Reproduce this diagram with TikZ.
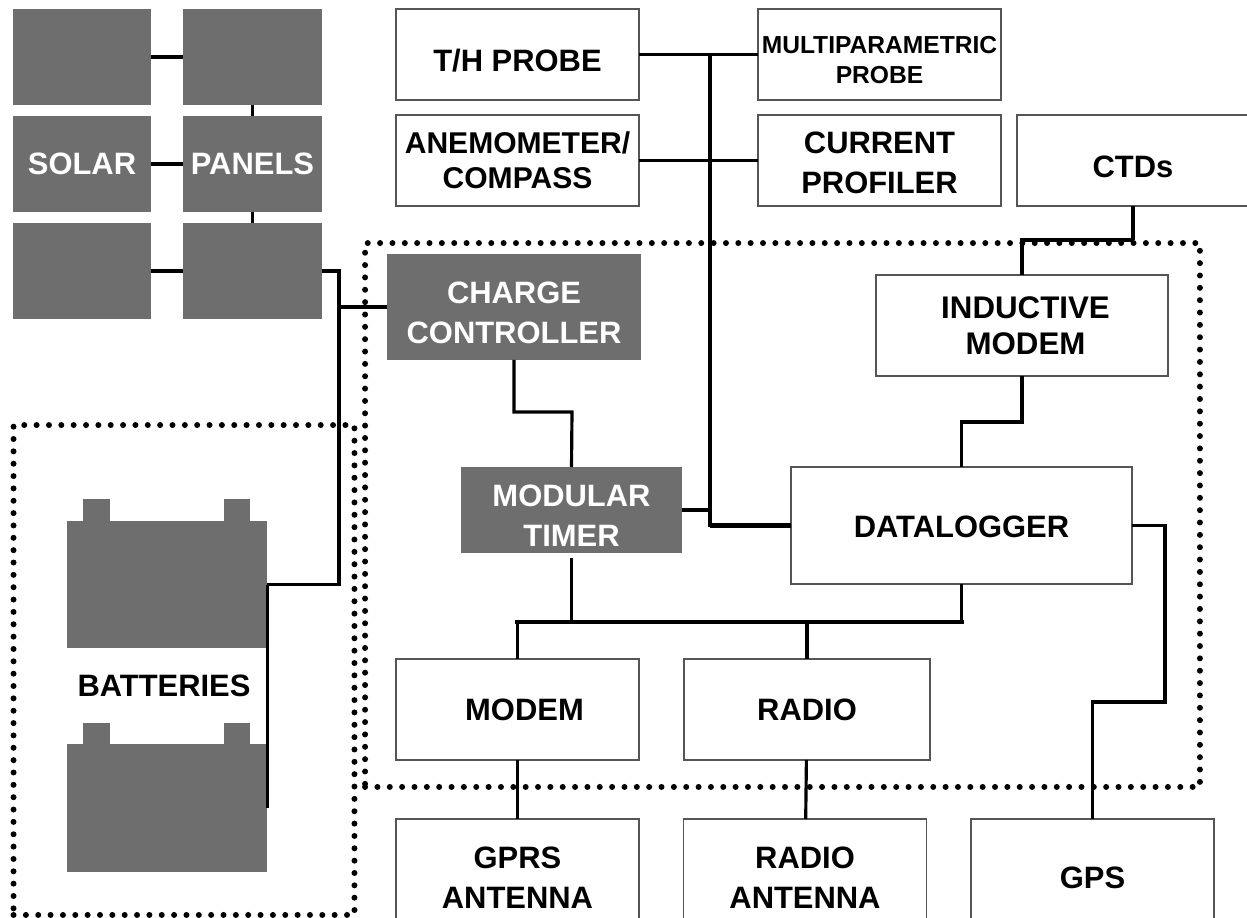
\documentclass[tikz,border=0pt]{standalone}
\usepackage{fontspec}
\setmainfont{Liberation Sans}
\usetikzlibrary{positioning}

\definecolor{panelgrey}{HTML}{6E6E6E}
\definecolor{edgegrey}{HTML}{555555}
\newcommand{\toppad}[1]{\rule{0pt}{#1}}

\begin{document}
\begin{tikzpicture}[
    x=0.02cm, y=-0.02cm,
    every node/.style={outer sep=0pt, inner sep=0pt},
    label/.style={align=center, font=\bfseries\fontsize{17.6}{22.7}\selectfont},
    box/.style={label, draw=edgegrey, line width=0.8pt, fill=white, minimum width=4.86cm, minimum height=1.82cm},
    panel/.style={label, fill=panelgrey, text=white, minimum width=2.77cm, minimum height=1.92cm},
    dark/.style={label, fill=panelgrey, text=white},
    battery/.style={fill=panelgrey, minimum width=4.02cm, minimum height=2.55cm},
    lug/.style={fill=panelgrey, minimum width=0.53cm, minimum height=0.43cm},
    zone/.style={draw, line width=3.4pt, line cap=round, dash pattern=on 0pt off 7.03pt},
    wire/.style={line width=1.8pt},
    buswire/.style={line width=2.5pt}
]
\path[clip, use as bounding box] (0,0) rectangle (1247,918);

% dotted enclosures
\node[zone, minimum width=16.7cm, minimum height=10.88cm] (station) at (782.5,515) {};
\node[zone, minimum width=6.82cm, minimum height=9.8cm] (batzone) at (184,670) {};

% solar panels
\node[panel] (pa1) at (82,57) {};
\node[panel, right=0.64cm of pa1] (pa2) {};
\node[panel, below=0.22cm of pa1] (pb1) {SOLAR};
\node[panel, right=0.64cm of pb1] (pb2) {PANELS};
\node[panel, below=0.22cm of pb1] (pc1) {};
\node[panel, right=0.64cm of pc1] (pc2) {};

% sensors
\node[box] (thprobe) at (517.5,54.5) {\toppad{19.2pt}T/H PROBE};
\node[box, font=\bfseries\fontsize{14}{17}\selectfont] (multi) at (879.5,54.5) {\toppad{15.8pt}MULTIPARAMETRIC\\PROBE};
\node[box, below=0.3cm of thprobe, font=\bfseries\fontsize{17.1}{19.9}\selectfont] (anemo) {ANEMOMETER/\\COMPASS};
\node[box, below=0.3cm of multi] (current) {\toppad{15.2pt}CURRENT\\PROFILER};
\node[box, minimum width=4.64cm] (ctds) at (1133,160.5) {\toppad{19.2pt}CTDs};

% station
\node[dark, minimum width=5.08cm, minimum height=2.12cm] (charge) at (514,307) {\toppad{19.2pt}CHARGE\\CONTROLLER};
\node[box, minimum width=5.84cm, minimum height=2.02cm, font=\bfseries\fontsize{17.8}{20.4}\selectfont] (inductive) at (1022,325.5) {\hspace*{0.14cm}INDUCTIVE\\\hspace*{0.14cm}MODEM};
\node[dark, minimum width=4.42cm, minimum height=1.72cm] (timer) at (571.5,510) {\toppad{19.2pt}MODULAR\\TIMER};
\node[box, minimum width=6.82cm, minimum height=2.34cm] (logger) at (961.5,525.5) {\toppad{14pt}DATALOGGER};
\node[box, minimum height=2.02cm] (modem) at (517.5,709.5) {\hspace*{0.28cm}MODEM};
\node[box, minimum width=4.92cm, minimum height=2.02cm] (radio) at (807,709.5) {RADIO};

% antennas
\node[box, minimum height=2.36cm] (gprs) at (517.5,878) {GPRS\\ANTENNA};
\node[box, minimum height=2.36cm] (radioant) at (805,878) {RADIO\\ANTENNA};
\node[box, minimum height=2.36cm] (gps) at (1092.5,878) {GPS};

% batteries
\node[battery] (bat1) at (167,584.5) {};
\node[lug, above right=0cm and 0.33cm of bat1.north west] (bat1a) {};
\node[lug, above left=0cm and 0.34cm of bat1.north east] (bat1b) {};
\node[label] (batlabel) at (164,686) {BATTERIES};
\node[battery] (bat2) at (167,808) {};
\node[lug, above right=0cm and 0.33cm of bat2.north west] (bat2a) {};
\node[lug, above left=0cm and 0.34cm of bat2.north east] (bat2b) {};

\coordinate (solarbus) at (339,307);
\coordinate (probebus) at (710,54.5);
\coordinate (ctdbend) at (1134,240);
\coordinate (chargebend) at (572,412);
\coordinate (inductivebend) at (961.5,422);
\coordinate (timerout) at (571.5,558);
\coordinate (powerbus) at (961.5,622);
\coordinate (gpsbend) at (1165,702);

% panel strings
\draw[wire] (pa1) -- (pa2);
\draw[wire] (pb1) -- (pb2);
\draw[wire] (pc1) -- (pc2);
\draw[wire] (pa2) -- (pb2);
\draw[wire] (pb2) -- (pc2);
\draw[wire] (pc2.east) -| (solarbus) |- (bat1.east);
\draw[wire] (solarbus) -- (charge.west);
\draw[wire] (bat1.east) -- (bat2.east);

% sensors to logger
\draw[wire] (thprobe) -- (multi);
\draw[wire] (anemo) -- (current);
\draw[wire] (probebus) |- (logger.west);
\draw[buswire] (logger.west -| probebus) -- (logger.west);
\draw[wire] (timer.east) -- (timer.east -| probebus);
\draw[wire] (ctds.south |- ctdbend) -- (ctds.south);
\draw[wire] (ctdbend) -| (inductive.north);
\draw[wire] (inductive.south) |- (inductivebend) -- (logger.north);

% power and outputs
\draw[wire] (charge.south) |- (chargebend) -- (timer.north);
\draw[wire] (timerout) -- (timerout |- powerbus);
\draw[wire] (logger.south) -- (powerbus);
\draw[buswire, line cap=rect] (powerbus) -- (powerbus -| modem.north);
\draw[wire] (powerbus -| modem.north) -- (modem.north);
\draw[wire] (radio.north |- powerbus) -- (radio.north);
\draw[wire] (modem) -- (gprs);
\draw[wire] (radio) -- (radioant);
\draw[wire] (logger.east) -| (gpsbend) -| (gps.north);
\end{tikzpicture}
\end{document}
